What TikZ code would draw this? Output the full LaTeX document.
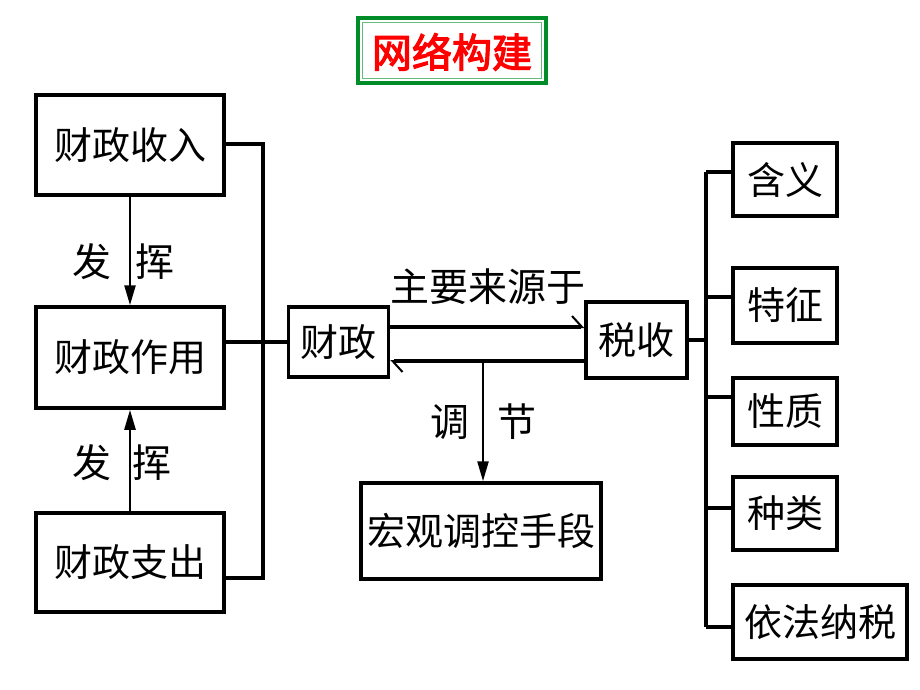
\documentclass[tikz,border=0pt]{standalone}
\usepackage{fontspec}
\newfontfamily\cjk{Noto Sans CJK SC}
\newfontfamily\cjkbold[FakeBold=3]{Noto Sans CJK SC}
\usetikzlibrary{arrows.meta}
\definecolor{tgreen}{RGB}{0,140,40}
\definecolor{tred}{RGB}{255,0,0}
\tikzset{
  box/.style={draw, line width=3.5pt, inner sep=0pt, font=\cjk\fontsize{38}{38}\selectfont},
  conn/.style={line width=3.2pt},
  lbl/.style={inner sep=0pt, font=\cjk\fontsize{39}{39}\selectfont},
  downarr/.style={line width=2.5pt, -{Triangle[length=20pt,width=11pt]}},
  harp/.style={line width=3.2pt, -{Straight Barb[left,length=10pt,width=22pt,line width=2pt]}}
}
\begin{document}
\begin{tikzpicture}[x=1pt,y=-1pt]
\useasboundingbox (0,0) rectangle (920,690);
\fill[white] (0,0) rectangle (920,690);
% title
\node[draw=tgreen, line width=3.5pt, minimum width=188pt, minimum height=65pt, inner sep=0pt] (title) at (452,50.5) {};
\draw[tgreen!60, line width=1pt] ([shift={(6pt,-6pt)}]title.north west) rectangle ([shift={(-6pt,6pt)}]title.south east);
\node[inner sep=0pt, text=tred, font=\cjkbold\fontsize{40}{40}\selectfont] (titletext) at (452,52) {网络构建};
% left boxes
\node[box, minimum width=188pt, minimum height=100pt] (srin) at (130,145) {财政收入};
\node[box, minimum width=188pt, minimum height=101pt] (zy) at (130,357.5) {财政作用};
\node[box, minimum width=188pt, minimum height=99pt] (zc) at (130,562.5) {财政支出};
% middle boxes
\node[box, minimum width=100pt, minimum height=70pt] (cz) at (338.5,342) {财政};
\node[box, minimum width=101pt, minimum height=76pt] (ss) at (636.5,340) {税收};
\node[box, minimum width=240pt, minimum height=96pt] (hg) at (481,531) {宏观调控手段};
% right boxes
\node[box, minimum width=104pt, minimum height=73pt] (hy) at (785,179.5) {含义};
\node[box, minimum width=104pt, minimum height=75pt] (tz) at (785,305.5) {特征};
\node[box, minimum width=104pt, minimum height=67pt] (xz) at (785,411.5) {性质};
\node[box, minimum width=104pt, minimum height=73pt] (zl) at (785,513.5) {种类};
\node[box, minimum width=174pt, minimum height=74pt] (yf) at (820,622) {依法纳税};
% left arrows and labels
\draw[downarr] (srin.south) -- (zy.north);
\draw[downarr] (zc.north) -- (zy.south);
\node[lbl] (fa1) at (92,262) {发};
\node[lbl] (hui1) at (155,262) {挥};
\node[lbl] (fa2) at (92,463) {发};
\node[lbl] (hui2) at (152,463) {挥};
% left bracket
\coordinate (bt) at (263,144);
\coordinate (bb) at (263,578);
\draw[conn] (srin.east |- bt) -- (bt) -- (bb) -- (zc.east |- bb);
\draw[conn] (zy.east |- cz.west) -- (cz.west);
% main harpoons
\coordinate (ut) at (0,327);
\coordinate (lt) at (0,361);
\draw[harp] (cz.east |- ut) -- (ss.west |- ut);
\draw[harp] (ss.west |- lt) -- (cz.east |- lt);
\node[lbl] (zyly) at (488,287) {主要来源于};
\coordinate (tj) at (483,361);
\draw[downarr] (tj) -- (tj |- hg.north);
\node[lbl] (tiao) at (450,422) {调};
\node[lbl] (jie) at (517,422) {节};
% right tree
\coordinate (rt) at (706,172);
\coordinate (rb) at (706,627);
\draw[conn] (ss.east) -- (ss.east -| rt);
\draw[conn] (rt) -- (rb);
\draw[conn] (rt) -- (hy.west |- rt);
\draw[conn] (706,297) -- (tz.west |- 0,297);
\draw[conn] (706,397) -- (xz.west |- 0,397);
\draw[conn] (706,508) -- (zl.west |- 0,508);
\draw[conn] (rb) -- (yf.west |- rb);
\end{tikzpicture}
\end{document}
